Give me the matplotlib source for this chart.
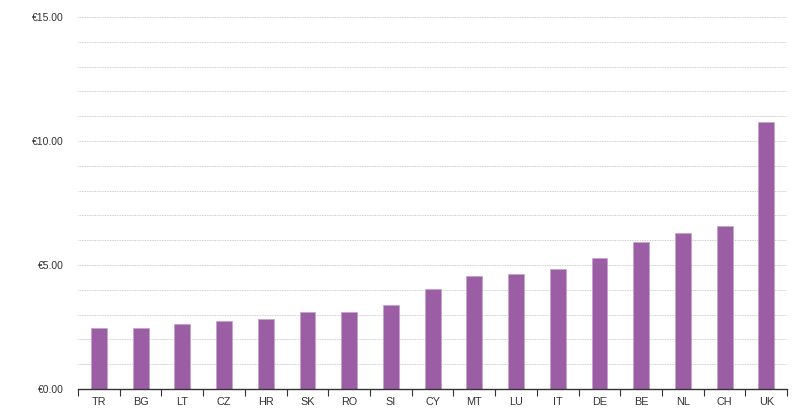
import numpy as np
import matplotlib.pyplot as plt
from matplotlib.ticker import MultipleLocator, FuncFormatter

plt.rcParams['font.family'] = ['Liberation Sans', 'DejaVu Sans']

countries = ['TR', 'BG', 'LT', 'CZ', 'HR', 'SK', 'RO', 'SI', 'CY',
             'MT', 'LU', 'IT', 'DE', 'BE', 'NL', 'CH', 'UK']
prices = [2.46, 2.46, 2.61, 2.76, 2.83, 3.10, 3.12, 3.39, 4.05,
          4.56, 4.64, 4.83, 5.28, 5.92, 6.31, 6.59, 10.76]

fig = plt.figure(figsize=(8, 4.18), dpi=100)
ax = fig.add_axes([0.0975, 0.0694, 0.8865, 0.8899])

x = np.arange(len(countries))
ax.bar(x, prices, width=0.38, color='#9b5ea5', edgecolor='#c7a3cd', linewidth=0.6, zorder=3)

ax.set_xlim(-0.5, len(countries) - 0.5)
ax.set_ylim(0, 15)

ax.yaxis.set_major_locator(MultipleLocator(5))
ax.yaxis.set_minor_locator(MultipleLocator(1))
ax.yaxis.set_major_formatter(FuncFormatter(lambda v, p: '€%.2f' % v))
ax.grid(axis='y', which='both', linestyle=(0, (1, 1)), color='#bdbdbd', linewidth=0.6, zorder=0)
ax.tick_params(axis='y', which='both', length=0, pad=10, labelsize=7.5, labelcolor='#333333')

ax.set_xticks(x)
ax.set_xticklabels(countries)
ax.set_xticks(np.arange(-0.5, len(countries)), minor=True)
ax.tick_params(axis='x', which='major', length=0, pad=6, labelsize=7.8, labelcolor='#333333')
ax.tick_params(axis='x', which='minor', length=5, width=0.8, color='#333333', direction='out')

for s in ['top', 'right', 'left']:
    ax.spines[s].set_visible(False)
ax.spines['bottom'].set_color('#333333')
ax.spines['bottom'].set_linewidth(1.0)
ax.spines['bottom'].set_zorder(4)

fig.savefig('out.png', dpi=100)
